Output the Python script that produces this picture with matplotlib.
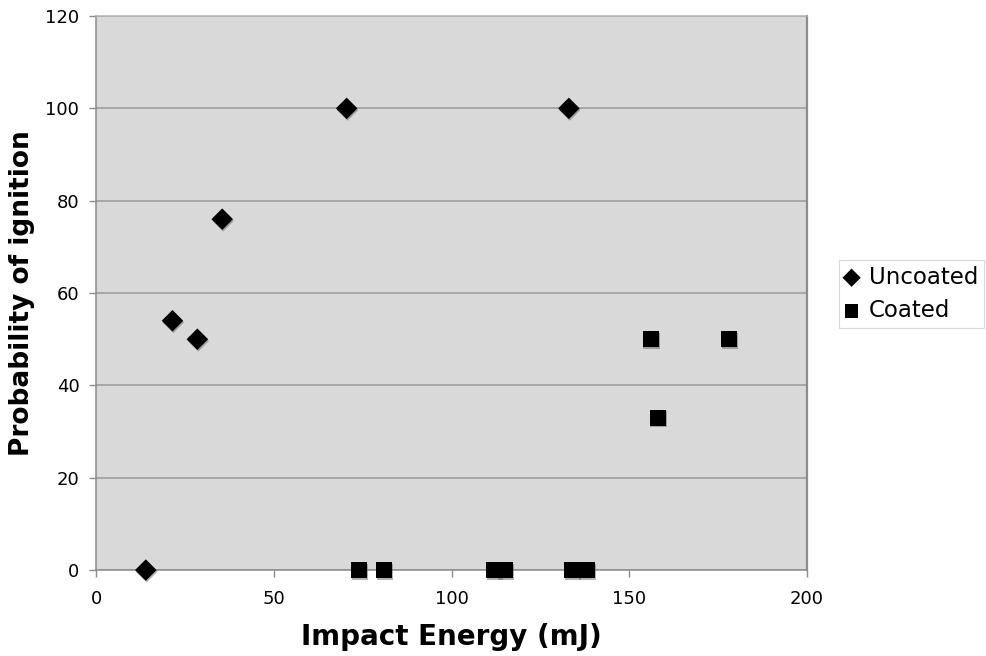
import matplotlib
matplotlib.use("Agg")
import matplotlib.pyplot as plt
import matplotlib.patheffects as pe

# Impact energy (mJ) vs. probability of ignition (%)
uncoated_energy = [14, 21.5, 28.5, 35.5, 70.5, 133]
uncoated_prob = [0, 54, 50, 76, 100, 100]

coated_energy = [74, 81, 112, 115, 134, 138, 156, 158, 178]
coated_prob = [0, 0, 0, 0, 0, 0, 50, 33, 50]

x_ticks = [0, 50, 100, 150, 200]
y_ticks = [0, 20, 40, 60, 80, 100, 120]

fig = plt.figure(figsize=(9.86, 6.56), dpi=100)
ax = fig.add_axes([0.0974, 0.131, 0.7211, 0.8446])

ax.set_facecolor("#d9d9d9")
ax.set_xlim(0, 200)
ax.set_ylim(0, 120)
ax.set_xticks(x_ticks)
ax.set_yticks(y_ticks)
ax.yaxis.grid(True, color="#9a9a9a", linewidth=1.1)
ax.set_axisbelow(True)

for s in ax.spines.values():
    s.set_color("#8c8c8c")
    s.set_linewidth(1.1)
ax.spines["top"].set_color("#b4b4b4")
ax.spines["right"].set_linewidth(1.6)

ax.tick_params(axis="both", direction="out", color="#8c8c8c", length=5,
               width=1, labelsize=13)
ax.tick_params(axis="x", pad=9)
ax.tick_params(axis="y", pad=7)

shadow = [pe.SimplePatchShadow(offset=(0.6, -1.2), shadow_rgbFace="#555555", alpha=0.45),
          pe.Normal()]

ax.scatter(uncoated_energy, uncoated_prob, marker="D", s=120, color="black",
           edgecolors="none", label="Uncoated", clip_on=False, zorder=3,
           path_effects=shadow)
ax.scatter(coated_energy, coated_prob, marker="s", s=135, color="black",
           edgecolors="none", label="Coated", clip_on=False, zorder=3,
           path_effects=shadow)

ax.set_xlabel("Impact Energy (mJ)", fontsize=20, fontweight="bold")
ax.xaxis.set_label_coords(0.5, -0.121)
ax.set_ylabel("Probability of ignition", fontsize=19, fontweight="bold")
ax.yaxis.set_label_coords(-0.104, 0.5)
ax.yaxis.label.set_verticalalignment("center")
ax.xaxis.label.set_verticalalignment("center")

leg = fig.legend(handles=ax.collections, labels=["Uncoated", "Coated"],
                 loc="upper left", bbox_to_anchor=(839 / 986, 1 - 260 / 656),
                 fontsize=16.5, frameon=True, fancybox=False, edgecolor="#d0d0d0",
                 handletextpad=0.45, borderpad=0.25, labelspacing=0.45,
                 handlelength=0.6, markerscale=0.85, borderaxespad=0)
leg.get_frame().set_linewidth(0.8)
for h in leg.legend_handles:
    h.set_path_effects([])

fig.savefig("out.png", dpi=100, facecolor="white")
